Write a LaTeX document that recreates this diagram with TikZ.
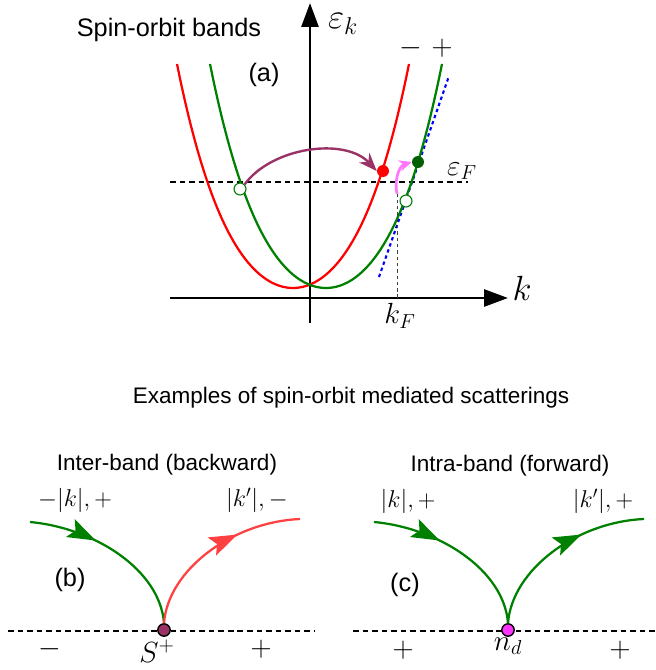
\documentclass[tikz,border=0pt]{standalone}
\usepackage{amsmath}
\usepackage{fontspec}
\setmainfont{Liberation Sans}
\usetikzlibrary{positioning, arrows.meta, decorations.markings}

\definecolor{bandgreen}{RGB}{0,128,0}
\definecolor{darkgreen}{RGB}{0,95,0}
\definecolor{plum}{RGB}{153,51,102}
\definecolor{pinkish}{RGB}{255,119,255}
\definecolor{lightred}{RGB}{255,64,64}
\definecolor{ndpink}{RGB}{255,51,255}

\begin{document}
\begin{tikzpicture}[
    x=0.025cm, y=-0.025cm,
    % Style definitions
    caption/.style={font=\fontsize{18}{21}\selectfont},
    heading/.style={font=\fontsize{16}{19}\selectfont},
    bigmath/.style={font=\fontsize{24}{28}\selectfont},
    midmath/.style={font=\fontsize{20}{24}\selectfont},
    legmath/.style={font=\fontsize{18}{21}\selectfont},
    signmath/.style={font=\fontsize{22}{26}\selectfont},
    band/.style={line width=1.6pt},
    axis/.style={line width=2.1pt, -{Triangle[length=17pt, width=12pt]}},
    fermi/.style={line width=1.5pt, dash pattern=on 4pt off 2.8pt},
    guide/.style={line width=0.6pt, dash pattern=on 2.5pt off 2pt, black!75},
    slope/.style={line width=1.5pt, blue, dash pattern=on 2.4pt off 2.2pt},
    kick/.style={line width=1.7pt, -{Stealth[length=13pt, width=10pt]}},
    smallkick/.style={line width=1.9pt, -{Stealth[length=9pt, width=8pt]}},
    state/.style={circle, inner sep=0pt, minimum size=8.5pt},
    hole/.style={state, draw=bandgreen, fill=white, line width=0.8pt},
    impurity/.style={circle, inner sep=0pt, minimum size=8.8pt, draw=black, line width=1pt},
    flow/.style={line width=1.6pt, postaction={decorate},
        decoration={markings,
            mark=at position #1 with {\arrow{Stealth[length=20pt, width=14pt, inset=4pt]}}}},
]
\useasboundingbox (0,0) rectangle (656,670);

% Panel positions
\def\rowFermi{182}
\def\rowLine{630}
\def\dotB{164}
\def\dotC{508}

% === (a) Spin-orbit bands ===
\node[caption] (bandtitle) at (169,30) {Spin-orbit bands};
\node[caption] (taga) at (264,75) {(a)};

% axes
\coordinate (xstart) at (170,298);
\coordinate (xend) at (508,298);
\coordinate (ystart) at (310,323);
\coordinate (yend) at (310,3);
\draw[axis] (xstart) -- (xend);
\draw[axis] (ystart) -- (yend);
\node[bigmath] (klabel) at (522,288) {$k$};
\node[bigmath] (elabel) at (343,24) {$\varepsilon_k$};

% Fermi level and slope at k_F
\coordinate (fermiL) at (170,\rowFermi);
\coordinate (fermiR) at (468,\rowFermi);
\draw[fermi] (fermiL) -- (fermiR);
\node[midmath] (eFlabel) at (462,171) {$\varepsilon_F$};
\coordinate (slopeA) at (379,277);
\coordinate (slopeB) at (449,76);
\draw[slope] (slopeA) -- (slopeB);

% the two bands
\draw[band, red] plot[domain=-1.16:1.16, samples=60, smooth]
    ({293+100*\x}, {288-119.2*\x*\x-35.14*\x*\x*\x*\x});
\draw[band, bandgreen] plot[domain=-1.16:1.16, samples=60, smooth]
    ({326+100*\x}, {288-119.2*\x*\x-35.14*\x*\x*\x*\x});
\node[midmath] (minuslabel) at (411,48) {$-$};
\node[midmath] (pluslabel) at (442,48) {$+$};

% k_F guide
\coordinate (kFfoot) at (397,298);
\coordinate (kFtop) at (397,194);
\draw[guide] (kFfoot) -- (kFtop);
\node[midmath] (kFlabel) at (400,316) {$k_F$};

% states and transitions
\node[hole] (backin) at (240,189) {};
\node[state, fill=red] (backout) at (383,171) {};
\node[hole] (fwdin) at (406,201) {};
\node[state, fill=darkgreen] (fwdout) at (418,162) {};
\draw[kick, plum] (backin.north east) .. controls (272,147) and (345,137) .. (backout.west);
\draw[smallkick, pinkish] (kFtop) .. controls (394,180) and (399,166) .. (fwdout.west);

% === Lower panel: scatterings ===
\node[heading] (scattitle) at (351,398) {Examples of spin-orbit mediated scatterings};

% (b) inter-band
\node[heading] (interhead) at (167,465) {Inter-band (backward)};
\node[legmath] (inlabelB) at (75,500) {$-|k|,+$};
\node[legmath] (outlabelB) at (257,500) {$|k'|,-$};
\node[caption] (tagb) at (70,580) {(b)};
\coordinate (lineBL) at (8,\rowLine+1);
\coordinate (lineBR) at (315,\rowLine+1);
\draw[fermi] (lineBL) -- (lineBR);
\coordinate (inB) at (30,522);
\coordinate (outB) at (300,519);
\node[impurity, fill=plum] (Splus) at (\dotB,\rowLine) {};
\draw[flow=0.38, bandgreen] (inB) .. controls (95,528) and (160,570) .. (Splus.north);
\draw[flow=0.65, lightred] (Splus.north) .. controls (168,570) and (232,522) .. (outB);
\node[signmath] (minusB) at (50,649) {$-$};
\node[signmath] (Slabel) at (157,651) {$S^+$};
\node[signmath] (plusB) at (261,649) {$+$};

% (c) intra-band
\node[heading] (intrahead) at (510,466) {Intra-band (forward)};
\node[legmath] (inlabelC) at (408,501) {$|k|,+$};
\node[legmath] (outlabelC) at (603,501) {$|k'|,+$};
\node[caption] (tagc) at (405,585) {(c)};
\coordinate (lineCL) at (353,\rowLine+1);
\coordinate (lineCR) at (656,\rowLine+1);
\draw[fermi] (lineCL) -- (lineCR);
\coordinate (inC) at (374,522);
\coordinate (outC) at (644,519);
\node[impurity, fill=ndpink] (nd) at (\dotC,\rowLine) {};
\draw[flow=0.38, bandgreen] (inC) .. controls (439,528) and (504,570) .. (nd.north);
\draw[flow=0.65, bandgreen] (nd.north) .. controls (512,570) and (576,522) .. (outC);
\node[signmath] (plusC1) at (403,650) {$+$};
\node[signmath] (ndlabel) at (508,646) {$n_d$};
\node[signmath] (plusC2) at (620,650) {$+$};

\end{tikzpicture}
\end{document}
